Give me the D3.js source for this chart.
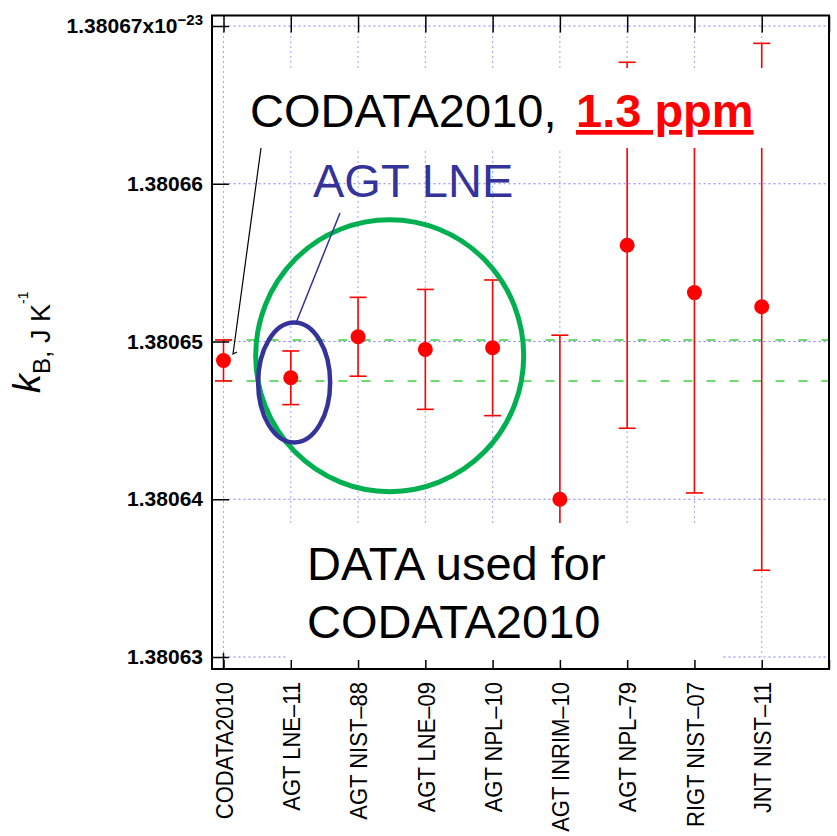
<!DOCTYPE html>
<html>
<head>
<meta charset="utf-8">
<script src="https://cdn.jsdelivr.net/npm/d3@7"></script>
<style>
  body { margin: 0; background: #fff; }
  svg { display: block; font-family: "Liberation Sans", Arial, sans-serif; }
</style>
</head>
<body>
<svg id="chart" width="837" height="836"></svg>
<script>
const categories = ["CODATA2010", "AGT LNE\u201311", "AGT NIST\u201388", "AGT LNE\u201309", "AGT NPL\u201310",
                    "AGT INRIM\u201310", "AGT NPL\u201379", "RIGT NIST\u201307", "JNT NIST\u201311"]
const kValues = [1.3806488, 1.3806477, 1.3806503, 1.3806495, 1.3806496, 1.3806400, 1.3806561, 1.3806531, 1.3806522]
const kUncert = [0.0000013, 0.0000017, 0.0000025, 0.0000038, 0.0000043, 0.0000104, 0.0000116, 0.0000127, 0.0000167]
const yTicks = [1.38063, 1.38064, 1.38065, 1.38066, 1.38067]
const yTickLabels = ["1.38063", "1.38064", "1.38065", "1.38066", "1.38067x10"]

const svg = d3.select("#chart")

// plot frame
const frameL = 212, frameR = 829, frameT = 15.5, frameB = 669

const x = d3.scaleLinear().domain([0, 9]).range([223.5, 829])
const y = d3.scaleLinear().domain([1.38063, 1.38067]).range([657, 26])

const grid_color = "#7a7aff"

// grid
const grid = svg.append("g")
grid.selectAll(".hgrid").data(yTicks).join("line")
    .attr("x1", x(0)).attr("x2", x(9))
    .attr("y1", d => y(d)).attr("y2", d => y(d))
    .attr("stroke", grid_color).attr("stroke-width", 1).attr("stroke-dasharray", "2,3")
grid.selectAll(".vgrid").data(d3.range(9)).join("line")
    .attr("x1", d => x(d)).attr("x2", d => x(d))
    .attr("y1", y(1.38067)).attr("y2", y(1.38063))
    .attr("stroke", grid_color).attr("stroke-opacity", 0.7).attr("stroke-width", 1).attr("stroke-dasharray", "2,3")

// CODATA band (value +/- u)
const band = [kValues[0] + kUncert[0], kValues[0] - kUncert[0]]
svg.append("g").selectAll("line").data(band).join("line")
    .attr("x1", x(0)).attr("x2", x(9))
    .attr("y1", d => y(d)).attr("y2", d => y(d))
    .attr("stroke", "#3fd03f").attr("stroke-width", 1.5).attr("stroke-dasharray", "9,14")

// error bars
const bars = svg.append("g").attr("stroke", "#ff0000").attr("stroke-width", 1.6)
categories.forEach((c, i) => {
    const v = kValues[i], u = kUncert[i]
    bars.append("line").attr("x1", x(i)).attr("x2", x(i)).attr("y1", y(v + u)).attr("y2", y(v - u))
    bars.append("line").attr("x1", x(i) - 8.5).attr("x2", x(i) + 8.5).attr("y1", y(v + u)).attr("y2", y(v + u))
    bars.append("line").attr("x1", x(i) - 8.5).attr("x2", x(i) + 8.5).attr("y1", y(v - u)).attr("y2", y(v - u))
})
svg.append("g").selectAll("circle").data(kValues).join("circle")
    .attr("cx", (d, i) => x(i)).attr("cy", d => y(d)).attr("r", 7.5)
    .attr("fill", "#ff0000")

// annotation boxes (white background)
svg.append("rect").attr("x", 240).attr("y", 68).attr("width", 545).attr("height", 80).attr("fill", "#fff")
svg.append("rect").attr("x", 287).attr("y", 523).attr("width", 435).attr("height", 142).attr("fill", "#fff")

svg.append("text").attr("x", 250).attr("y", 127).attr("font-size", 47).attr("fill", "#000")
    .text("CODATA2010,")
svg.append("text").attr("x", 576).attr("y", 127).attr("font-size", 47).attr("font-weight", "bold")
    .attr("fill", "#ff0000").style("text-decoration", "underline")
    .text("1.3 ppm")

const dataText = svg.append("text").attr("font-size", 47).attr("fill", "#000")
dataText.append("tspan").attr("x", 307).attr("y", 580).text("DATA used for")
dataText.append("tspan").attr("x", 307).attr("y", 638).text("CODATA2010")

svg.append("text").attr("x", 313).attr("y", 197).attr("font-size", 47).attr("fill", "#333399")
    .text("AGT LNE")

// ellipses and callouts
svg.append("ellipse").attr("cx", x(2.47)).attr("cy", y(1.3806491)).attr("rx", 134).attr("ry", 136)
    .attr("fill", "none").attr("stroke", "#00b050").attr("stroke-width", 5)
svg.append("ellipse").attr("cx", x(1.05)).attr("cy", y(1.3806474)).attr("rx", 36).attr("ry", 60)
    .attr("fill", "none").attr("stroke", "#333399").attr("stroke-width", 4.5)
svg.append("line").attr("x1", 340).attr("y1", 213).attr("x2", 296).attr("y2", 323)
    .attr("stroke", "#333399").attr("stroke-width", 1.5)
svg.append("polyline").attr("points", "261,148 233,354 237,352")
    .attr("fill", "none").attr("stroke", "#000").attr("stroke-width", 1.2)

// axes
const yAxis = svg.append("g").attr("transform", `translate(${frameL},0)`)
    .call(d3.axisLeft(y).tickValues(yTicks).tickSizeInner(-17).tickSizeOuter(0).tickPadding(9)
        .tickFormat((d, i) => yTickLabels[i]))
yAxis.select(".domain").remove()
yAxis.selectAll(".tick line").attr("stroke", "#000").attr("stroke-width", 1.5)
yAxis.selectAll(".tick text")
    .attr("font-family", "'Liberation Sans', Arial, sans-serif")
    .attr("font-size", 21).attr("font-weight", "bold").attr("fill", "#000")
yAxis.selectAll(".tick text").filter(d => d === 1.38067)
    .append("tspan").attr("font-size", 15).attr("dy", "-0.55em").text("\u221223")

const xAxisB = svg.append("g").attr("transform", `translate(0,${frameB})`)
    .call(d3.axisBottom(x).tickValues(d3.range(10)).tickSizeInner(-9).tickSizeOuter(0)
        .tickFormat(i => categories[i] || ""))
xAxisB.select(".domain").remove()
xAxisB.selectAll(".tick line").attr("stroke", "#000").attr("stroke-width", 1.5)
xAxisB.selectAll(".tick text")
    .attr("font-family", "'Liberation Sans', Arial, sans-serif")
    .attr("font-size", 22).attr("fill", "#000")
    .attr("transform", "rotate(-90) scale(1,1.1)")
    .attr("x", -13).attr("y", 0).attr("dy", "0.36em")
    .style("text-anchor", "end")

const xAxisT = svg.append("g").attr("transform", `translate(0,${frameT})`)
    .call(d3.axisTop(x).tickValues(d3.range(10)).tickSizeInner(-17).tickSizeOuter(0).tickFormat(""))
xAxisT.select(".domain").remove()
xAxisT.selectAll(".tick line").attr("stroke", "#000").attr("stroke-width", 1.5)

// bottom-left corner cross
svg.append("line").attr("x1", x(0)).attr("x2", x(0)).attr("y1", y(1.38063) - 4).attr("y2", frameB)
    .attr("stroke", "#000").attr("stroke-width", 1.5)

// frame
svg.append("path")
    .attr("d", `M${frameL},${frameT}H${frameR}V${frameB}H${frameL}Z`)
    .attr("fill", "none").attr("stroke", "#000").attr("stroke-width", 2)

// y label
const ylab = svg.append("text").attr("transform", "translate(40,393) rotate(-90)")
    .attr("fill", "#000")
ylab.append("tspan").attr("font-size", 38).attr("font-style", "italic").text("k")
ylab.append("tspan").attr("font-size", 24).attr("dy", 10).text("B")
ylab.append("tspan").attr("font-size", 27).text(", J K")
ylab.append("tspan").attr("font-size", 14).attr("dy", -22).text("-1")
</script>
</body>
</html>
